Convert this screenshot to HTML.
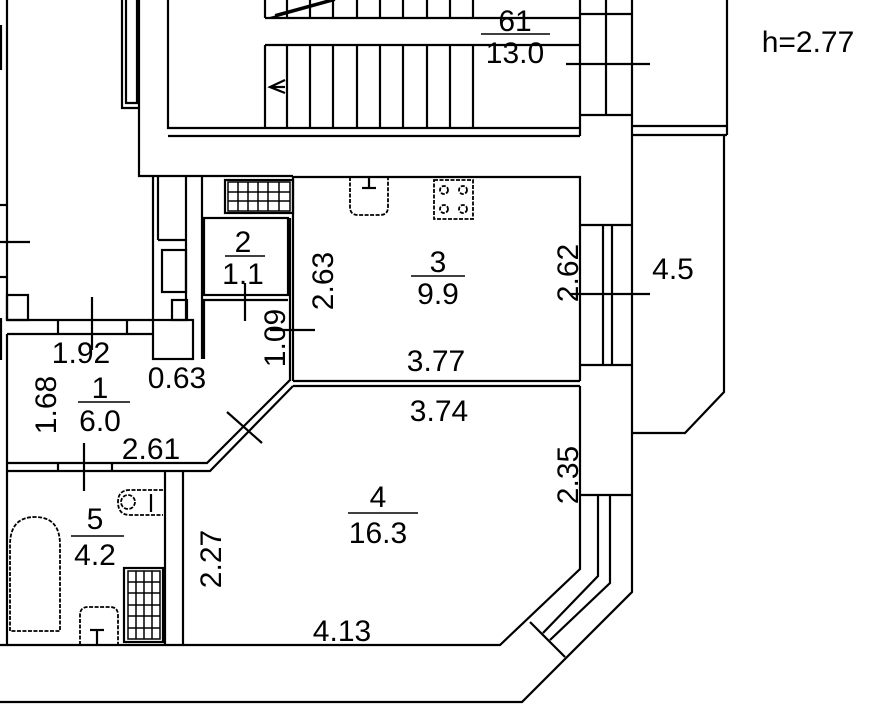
<!DOCTYPE html>
<html><head><meta charset="utf-8"><style>
html,body{margin:0;padding:0;background:#fff;}
svg{display:block}
text{font-family:"Liberation Sans",sans-serif;font-size:30px;fill:#000;letter-spacing:0px}
</style></head><body>
<svg width="880" height="713" viewBox="0 0 880 713" xmlns="http://www.w3.org/2000/svg">
<g stroke="#000" stroke-width="2.2" fill="none">
<line x1="7" y1="0" x2="7" y2="320"/>
<line x1="1" y1="25" x2="1" y2="70"/>
<line x1="0" y1="205" x2="7" y2="205"/>
<line x1="0" y1="242" x2="30" y2="242"/>
<line x1="0" y1="277" x2="7" y2="277"/>
<line x1="1" y1="318" x2="1" y2="360"/>
<line x1="7" y1="334" x2="7" y2="645"/>
<polyline points="122,0 122,108 139,108"/>
<polyline points="126,0 126,103 137,103 137,0"/>
<polyline points="139,0 139,176 293,176"/>
<polyline points="168,0 168,128 580,128"/>
<line x1="168" y1="136" x2="580" y2="136"/>
<line x1="580" y1="0" x2="580" y2="136"/>
<line x1="265" y1="18" x2="580" y2="18"/>
<line x1="265" y1="45" x2="580" y2="45"/>
<line x1="265" y1="0" x2="265" y2="18"/>
<line x1="265" y1="45" x2="265" y2="128"/>
<g>
<line x1="287" y1="0" x2="287" y2="18"/><line x1="310" y1="0" x2="310" y2="18"/><line x1="333" y1="0" x2="333" y2="18"/><line x1="357" y1="0" x2="357" y2="18"/><line x1="380" y1="0" x2="380" y2="18"/><line x1="403" y1="0" x2="403" y2="18"/><line x1="427" y1="0" x2="427" y2="18"/><line x1="450" y1="0" x2="450" y2="18"/><line x1="473" y1="0" x2="473" y2="18"/>
<line x1="287" y1="45" x2="287" y2="128"/><line x1="310" y1="45" x2="310" y2="128"/><line x1="333" y1="45" x2="333" y2="128"/><line x1="357" y1="45" x2="357" y2="128"/><line x1="380" y1="45" x2="380" y2="128"/><line x1="403" y1="45" x2="403" y2="128"/><line x1="427" y1="45" x2="427" y2="128"/><line x1="450" y1="45" x2="450" y2="128"/><line x1="473" y1="45" x2="473" y2="128"/>
</g>
<line x1="270" y1="18" x2="335" y2="0"/>
<line x1="275" y1="15" x2="330" y2="0"/>
<polyline points="285,80 270,87 285,93"/>
<line x1="270" y1="87" x2="285" y2="87"/>
<line x1="606" y1="0" x2="606" y2="115"/>
<line x1="580" y1="14" x2="632" y2="14"/>
<line x1="580" y1="115" x2="632" y2="115"/>
<line x1="566" y1="64" x2="650" y2="64"/>
<polyline points="632,0 632,592 522,702 0,702"/>
<polyline points="727,0 727,135"/>
<line x1="632" y1="126" x2="727" y2="126"/>
<line x1="632" y1="135" x2="727" y2="135"/>
<polyline points="724,135 724,392 685,433 632,433"/>
<polyline points="293,177 580,177 580,381"/>
<line x1="580" y1="225" x2="632" y2="225"/>
<line x1="580" y1="365" x2="632" y2="365"/>
<line x1="603" y1="225" x2="603" y2="365"/>
<line x1="612" y1="225" x2="612" y2="365"/>
<line x1="570" y1="294" x2="650" y2="294"/>
<line x1="293" y1="381" x2="580" y2="381"/>
<line x1="293" y1="386" x2="580" y2="386"/>
<polyline points="580,386 580,569 500,645 0,645"/>
<line x1="580" y1="495" x2="632" y2="495"/>
<polyline points="598,495 598,576 543,633"/>
<polyline points="610,495 610,583 550,640"/>
<line x1="530" y1="622" x2="565" y2="657"/>
<line x1="153" y1="177" x2="153" y2="320"/>
<line x1="158" y1="177" x2="158" y2="240"/>
<line x1="186" y1="177" x2="186" y2="320"/>
<line x1="202" y1="177" x2="202" y2="359"/>
<line x1="158" y1="240" x2="186" y2="240"/>
<rect x="162" y="250" width="24" height="42"/>
<rect x="172" y="300" width="15" height="20"/>
<rect x="153" y="320" width="40" height="39"/>
<rect x="225" y="180" width="68" height="33"/>
<rect x="228" y="182" width="62" height="29" stroke-width="1.5"/>
<g stroke-width="1.5"><line x1="238" y1="182" x2="238" y2="211"/><line x1="248" y1="182" x2="248" y2="211"/><line x1="258" y1="182" x2="258" y2="211"/><line x1="268" y1="182" x2="268" y2="211"/><line x1="279" y1="182" x2="279" y2="211"/><line x1="228" y1="192" x2="290" y2="192"/><line x1="228" y1="201" x2="290" y2="201"/></g>
<rect x="204" y="218" width="84" height="77"/>
<line x1="293" y1="177" x2="293" y2="381"/>
<line x1="290" y1="218" x2="290" y2="381"/>
<polyline points="204,359 204,300 288,300"/>
<line x1="245" y1="283" x2="245" y2="321"/>
<line x1="270" y1="330" x2="315" y2="330"/>
<rect x="7" y="295" width="21" height="25"/>
<line x1="7" y1="320" x2="153" y2="320"/>
<line x1="7" y1="334" x2="153" y2="334"/>
<line x1="58" y1="320" x2="58" y2="334"/>
<line x1="127" y1="320" x2="127" y2="334"/>
<line x1="92" y1="297" x2="92" y2="350"/>
<polyline points="7,463 207,463 290,380"/>
<polyline points="7,471 210,471 293,386"/>
<line x1="58" y1="463" x2="58" y2="471"/>
<line x1="112" y1="463" x2="112" y2="471"/>
<line x1="227" y1="412" x2="262" y2="443"/>
<line x1="84" y1="443" x2="84" y2="491"/>
<line x1="165" y1="471" x2="165" y2="645"/>
<line x1="183" y1="471" x2="183" y2="645"/>
<g stroke-width="1.8" stroke-dasharray="4,1.5">
<path d="M10,631 L10,545 Q10,517 35,517 Q60,517 60,545 L60,631 Z"/>
<path d="M80,645 L80,615 Q80,607 88,607 L110,607 Q118,607 118,615 L118,645"/>
<path d="M163,490 L130,490 Q118,490 118,502 Q118,515 130,515 L163,515"/>
<circle cx="128" cy="502" r="7"/>
<path d="M350,177 L350,207 Q350,215 358,215 L380,215 Q388,215 388,207 L388,177"/>
<rect x="434" y="180" width="39" height="39"/>
<circle cx="444" cy="190" r="4"/><circle cx="463" cy="190" r="4"/><circle cx="444" cy="209" r="4"/><circle cx="463" cy="209" r="4"/>
</g>
<line x1="151" y1="494" x2="151" y2="512"/>
<line x1="369" y1="177" x2="369" y2="188"/><line x1="362" y1="188" x2="376" y2="188"/>
<line x1="97" y1="630" x2="97" y2="645"/><line x1="90" y1="630" x2="104" y2="630"/>
<rect x="124" y="568" width="39" height="74"/>
<rect x="128" y="571" width="32" height="68" stroke-width="1.5"/>
<g stroke-width="1.5"><line x1="136" y1="571" x2="136" y2="639"/><line x1="144" y1="571" x2="144" y2="639"/><line x1="152" y1="571" x2="152" y2="639"/>
<line x1="128" y1="582" x2="160" y2="582"/><line x1="128" y1="593" x2="160" y2="593"/><line x1="128" y1="605" x2="160" y2="605"/><line x1="128" y1="616" x2="160" y2="616"/><line x1="128" y1="628" x2="160" y2="628"/></g>
<line x1="481" y1="34" x2="550" y2="34" stroke-width="1.6"/>
<line x1="225" y1="256" x2="265" y2="256" stroke-width="1.6"/>
<line x1="411" y1="276" x2="465" y2="276" stroke-width="1.6"/>
<line x1="348" y1="513" x2="418" y2="513" stroke-width="1.6"/>
<line x1="78" y1="402" x2="130" y2="402" stroke-width="1.6"/>
<line x1="71" y1="536" x2="124" y2="536" stroke-width="1.6"/>
</g>
<g text-anchor="middle">
<text x="515" y="31">61</text><text x="515" y="63">13.0</text>
<text x="243" y="252">2</text><text x="243" y="284">1.1</text>
<text x="438" y="272">3</text><text x="438" y="304">9.9</text>
<text x="378" y="507">4</text><text x="378" y="543">16.3</text>
<text x="100" y="398">1</text><text x="100" y="431">6.0</text>
<text x="95" y="529">5</text><text x="95" y="565">4.2</text>
<text x="81" y="363">1.92</text>
<text x="177" y="388">0.63</text>
<text x="151" y="459">2.61</text>
<text x="436" y="371">3.77</text>
<text x="439" y="421">3.74</text>
<text x="342" y="641">4.13</text>
<text x="673" y="279">4.5</text>
<text x="808" y="52">h=2.77</text>
<text transform="translate(56,405) rotate(-90)">1.68</text>
<text transform="translate(221,559) rotate(-90)">2.27</text>
<text transform="translate(578,475) rotate(-90)">2.35</text>
<text transform="translate(578,273) rotate(-90)">2.62</text>
<text transform="translate(333,281) rotate(-90)">2.63</text>
<text transform="translate(285,338) rotate(-90)">1.09</text>
</g>
</svg>
</body></html>
